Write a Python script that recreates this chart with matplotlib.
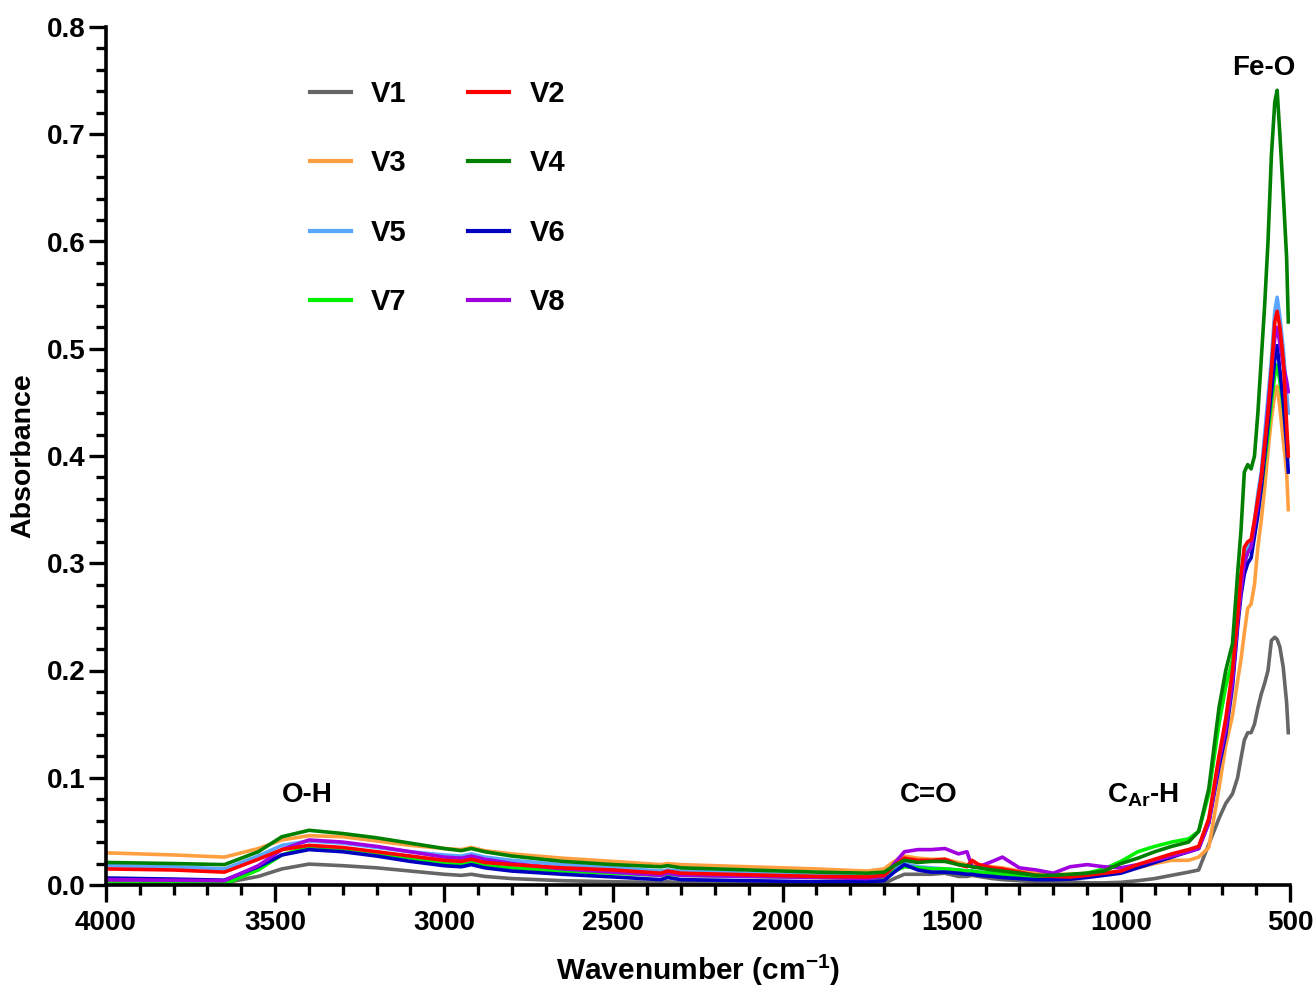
import matplotlib
matplotlib.use("Agg")
import matplotlib.pyplot as plt
from matplotlib.ticker import MultipleLocator, FormatStrFormatter

plt.rcParams['font.family'] = ['Liberation Sans', 'DejaVu Sans']
plt.rcParams['font.weight'] = 'bold'
plt.rcParams['mathtext.fontset'] = 'custom'
plt.rcParams['mathtext.rm'] = 'Liberation Sans:bold'
plt.rcParams['mathtext.bf'] = 'Liberation Sans:bold'
plt.rcParams['mathtext.it'] = 'Liberation Sans:bold'

wavenumber = [4000, 3800, 3650, 3550, 3480, 3400, 3300, 3200, 3100, 3000,
              2950, 2920, 2880, 2800, 2650, 2500, 2360, 2340, 2300, 2100,
              1900, 1750, 1700, 1670, 1640, 1600, 1560, 1520, 1480, 1455,
              1440, 1420, 1380, 1350, 1300, 1250, 1200, 1150, 1100, 1050,
              1000, 950, 900, 850, 800, 770, 740, 710, 690, 670,
              655, 645, 635, 625, 615, 605, 595, 585, 575, 565,
              555, 545, 538, 530, 520, 510, 505]

V1 = [0.003, 0.0025, 0.002, 0.008, 0.015, 0.0195, 0.018, 0.016, 0.013, 0.010,
      0.009, 0.010, 0.008, 0.006, 0.004, 0.003, 0.0025, 0.003, 0.0022, 0.0018,
      0.0012, 0.001, 0.0012, 0.006, 0.010, 0.010, 0.010, 0.011, 0.008, 0.008,
      0.009, 0.008, 0.006, 0.005, 0.004, 0.003, 0.003, 0.003, 0.002, 0.002,
      0.0025, 0.004, 0.006, 0.009, 0.012, 0.014, 0.038, 0.062, 0.076, 0.085,
      0.100, 0.118, 0.135, 0.142, 0.142, 0.150, 0.165, 0.178, 0.188, 0.200,
      0.228, 0.231, 0.229, 0.222, 0.203, 0.170, 0.142]
V2 = [0.015, 0.014, 0.012, 0.024, 0.033, 0.037, 0.035, 0.031, 0.027, 0.023,
      0.022, 0.024, 0.021, 0.019, 0.016, 0.014, 0.011, 0.013, 0.011, 0.0095,
      0.008, 0.0075, 0.009, 0.018, 0.025, 0.023, 0.023, 0.024, 0.019, 0.017,
      0.023, 0.019, 0.016, 0.015, 0.012, 0.009, 0.008, 0.0075, 0.009, 0.011,
      0.013, 0.019, 0.024, 0.029, 0.033, 0.036, 0.062, 0.12, 0.155, 0.20,
      0.25, 0.29, 0.315, 0.320, 0.322, 0.340, 0.360, 0.380, 0.410, 0.440,
      0.480, 0.525, 0.535, 0.520, 0.490, 0.430, 0.400]
V3 = [0.030, 0.028, 0.026, 0.034, 0.042, 0.046, 0.045, 0.041, 0.037, 0.034,
      0.033, 0.035, 0.032, 0.029, 0.025, 0.022, 0.019, 0.020, 0.019, 0.017,
      0.015, 0.013, 0.015, 0.022, 0.027, 0.025, 0.024, 0.024, 0.021, 0.019,
      0.020, 0.019, 0.017, 0.016, 0.013, 0.011, 0.010, 0.010, 0.011, 0.012,
      0.012, 0.016, 0.020, 0.023, 0.023, 0.026, 0.035, 0.090, 0.130, 0.158,
      0.19, 0.21, 0.235, 0.258, 0.262, 0.280, 0.315, 0.340, 0.370, 0.405,
      0.435, 0.458, 0.465, 0.445, 0.415, 0.385, 0.350]
V4 = [0.021, 0.020, 0.019, 0.031, 0.045, 0.051, 0.048, 0.044, 0.039, 0.034,
      0.032, 0.034, 0.031, 0.027, 0.022, 0.019, 0.017, 0.018, 0.016, 0.014,
      0.012, 0.011, 0.012, 0.018, 0.023, 0.021, 0.022, 0.022, 0.019, 0.018,
      0.017, 0.016, 0.014, 0.013, 0.011, 0.009, 0.009, 0.010, 0.011, 0.013,
      0.020, 0.025, 0.031, 0.036, 0.040, 0.050, 0.090, 0.165, 0.200, 0.225,
      0.29, 0.33, 0.385, 0.392, 0.388, 0.400, 0.440, 0.490, 0.540, 0.600,
      0.680, 0.730, 0.741, 0.700, 0.645, 0.585, 0.525]
V5 = [0.018, 0.017, 0.015, 0.027, 0.037, 0.041, 0.039, 0.035, 0.031, 0.028,
      0.027, 0.029, 0.026, 0.023, 0.019, 0.016, 0.013, 0.014, 0.013, 0.011,
      0.009, 0.008, 0.009, 0.015, 0.020, 0.017, 0.016, 0.015, 0.014, 0.013,
      0.013, 0.012, 0.011, 0.010, 0.009, 0.008, 0.007, 0.007, 0.009, 0.011,
      0.012, 0.017, 0.022, 0.027, 0.032, 0.035, 0.060, 0.115, 0.145, 0.190,
      0.25, 0.28, 0.305, 0.315, 0.320, 0.340, 0.365, 0.385, 0.420, 0.455,
      0.490, 0.535, 0.548, 0.530, 0.500, 0.460, 0.440]
V6 = [0.0065, 0.0055, 0.0045, 0.017, 0.028, 0.033, 0.031, 0.027, 0.022, 0.018,
      0.017, 0.019, 0.016, 0.013, 0.010, 0.0075, 0.005, 0.007, 0.005, 0.004,
      0.003, 0.003, 0.004, 0.012, 0.019, 0.014, 0.012, 0.012, 0.011, 0.010,
      0.010, 0.009, 0.008, 0.007, 0.006, 0.005, 0.005, 0.0055, 0.007, 0.009,
      0.011, 0.016, 0.021, 0.026, 0.031, 0.034, 0.058, 0.110, 0.140, 0.185,
      0.24, 0.27, 0.290, 0.300, 0.305, 0.325, 0.345, 0.370, 0.400, 0.430,
      0.460, 0.490, 0.503, 0.480, 0.450, 0.410, 0.385]
V7 = [0.001, 0.001, 0.001, 0.014, 0.028, 0.036, 0.034, 0.030, 0.025, 0.020,
      0.019, 0.021, 0.018, 0.016, 0.013, 0.011, 0.009, 0.010, 0.009, 0.008,
      0.007, 0.006, 0.007, 0.013, 0.017, 0.016, 0.015, 0.015, 0.014, 0.013,
      0.013, 0.012, 0.011, 0.010, 0.009, 0.008, 0.008, 0.009, 0.011, 0.015,
      0.022, 0.031, 0.036, 0.040, 0.043, 0.050, 0.085, 0.150, 0.185, 0.210,
      0.25, 0.28, 0.300, 0.310, 0.315, 0.330, 0.350, 0.370, 0.395, 0.420,
      0.450, 0.475, 0.485, 0.470, 0.445, 0.420, 0.400]
V8 = [0.005, 0.0045, 0.004, 0.018, 0.033, 0.042, 0.040, 0.036, 0.031, 0.026,
      0.025, 0.027, 0.024, 0.020, 0.015, 0.012, 0.009, 0.011, 0.009, 0.008,
      0.007, 0.006, 0.008, 0.020, 0.031, 0.033, 0.033, 0.034, 0.029, 0.031,
      0.017, 0.017, 0.022, 0.026, 0.016, 0.014, 0.011, 0.017, 0.019, 0.017,
      0.016, 0.019, 0.023, 0.027, 0.031, 0.034, 0.058, 0.115, 0.145, 0.190,
      0.245, 0.275, 0.300, 0.310, 0.315, 0.335, 0.355, 0.380, 0.410, 0.445,
      0.480, 0.510, 0.520, 0.505, 0.485, 0.470, 0.460]

labels = ['V1', 'V2', 'V3', 'V4', 'V5', 'V6', 'V7', 'V8']
colors = ['#666666', '#FF0000', '#FFA040', '#008000', '#5AA5FF', '#0000C0', '#00F000', '#A000E0']
series = [V1, V2, V3, V4, V5, V6, V7, V8]
draw_order = [0, 2, 4, 6, 5, 7, 1, 3]

W, H = 1314, 989
fig = plt.figure(figsize=(W / 100, H / 100), dpi=100)
ax = fig.add_axes([106 / W, 1 - 885 / H, (1290 - 106) / W, (885 - 27) / H])

lines = {}
for k, i in enumerate(draw_order):
    ln, = ax.plot(wavenumber, series[i], color=colors[i], lw=2.6, label=labels[i],
                  solid_joinstyle='round', zorder=2 + k * 0.01)
    lines[i] = ln

ax.set_xlim(4000, 500)
ax.set_ylim(0, 0.8)
ax.xaxis.set_major_locator(MultipleLocator(500))
ax.xaxis.set_minor_locator(MultipleLocator(100))
ax.yaxis.set_major_locator(MultipleLocator(0.1))
ax.yaxis.set_minor_locator(MultipleLocator(0.02))
ax.yaxis.set_major_formatter(FormatStrFormatter('%.1f'))

for s in ['top', 'right']:
    ax.spines[s].set_visible(False)
for s in ['left', 'bottom']:
    ax.spines[s].set_linewidth(2.6)

ax.tick_params(axis='both', which='major', direction='out', length=12, width=2.4,
               labelsize=20)
ax.tick_params(axis='both', which='minor', direction='out', length=7, width=2.4)
ax.tick_params(axis='x', which='major', pad=6)
ax.tick_params(axis='y', which='major', pad=3)
for lab in ax.get_xticklabels() + ax.get_yticklabels():
    lab.set_fontweight('bold')

ax.set_ylabel('Absorbance', fontsize=20.5, fontweight='bold', labelpad=7)
ax.set_xlabel(r'Wavenumber (cm$^{\mathbf{-1}}$)', fontsize=21.5, fontweight='bold', labelpad=12)

ax.text(3406, 0.084, 'O-H', fontsize=20, fontweight='bold', ha='center', va='center')
ax.text(1567, 0.084, 'C=O', fontsize=20, fontweight='bold', ha='center', va='center')
ax.text(935, 0.084, r'C$_{\mathbf{Ar}}$-H', fontsize=20, fontweight='bold', ha='center', va='center')
ax.text(577, 0.762, 'Fe-O', fontsize=20, fontweight='bold', ha='center', va='center')

legend_order = [0, 2, 4, 6, 1, 3, 5, 7]
handles = [lines[i] for i in legend_order]
leg_labels = [labels[i] for i in legend_order]
leg = ax.legend(handles, leg_labels, ncol=2, loc='upper left',
                bbox_to_anchor=(310 / W, 1 - 80 / H), bbox_transform=fig.transFigure,
                frameon=False, borderpad=0, borderaxespad=0,
                handlelength=1.4, handletextpad=0.7, columnspacing=2.1,
                labelspacing=1.42, prop={'size': 21, 'weight': 'bold'})
for lh in leg.get_lines():
    lh.set_linewidth(3)

fig.savefig('out.png', dpi=100)
